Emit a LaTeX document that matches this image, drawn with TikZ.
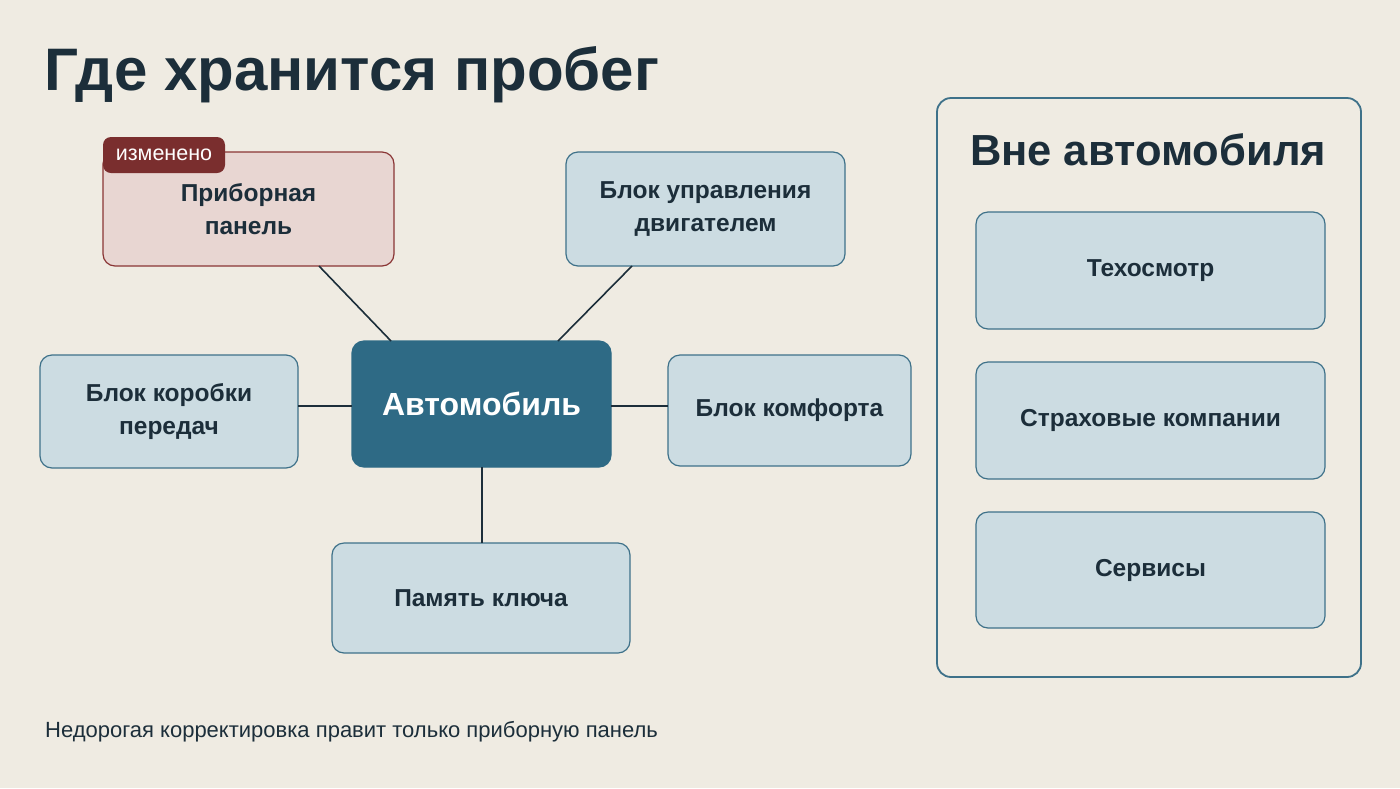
\documentclass[tikz,border=0pt]{standalone}
\usepackage{fontspec}
\setmainfont{Liberation Sans}
\definecolor{bg}{HTML}{EFEBE2}
\definecolor{boxfill}{HTML}{CCDCE2}
\definecolor{boxline}{HTML}{3E7189}
\definecolor{ink}{HTML}{1C2E3A}
\definecolor{hub}{HTML}{2E6A85}
\definecolor{redfill}{HTML}{E8D6D2}
\definecolor{redline}{HTML}{8A3535}
\definecolor{tagfill}{HTML}{7A2E2E}
\tikzset{
  bluebox/.style={draw=boxline, line width=1.2pt, fill=boxfill, rounded corners=12pt, align=center, text=ink, font=\fontsize{24.5}{33}\selectfont\bfseries, inner sep=0pt},
  conn/.style={draw=ink, line width=1.6pt},
}
\begin{document}
\begin{tikzpicture}[x=1pt,y=-1pt]
\fill[bg] (0,0) rectangle (1400,788);
\useasboundingbox (0,0) rectangle (1400,788);
% title
\node[anchor=base west, text=ink, font=\fontsize{60}{60}\selectfont\bfseries, inner sep=0pt] (title) at (44,90) {Где хранится пробег};
% nodes
\node[bluebox, draw=redline, fill=redfill, minimum width=291pt, minimum height=114pt] (dash) at (248.5,209) {Приборная\\панель};
\node[fill=tagfill, rounded corners=8pt, minimum width=122pt, minimum height=36pt, inner sep=0pt, text=white, font=\fontsize{21.5}{21.5}\selectfont] (tag) at (164,155) {изменено};
\node[bluebox, minimum width=279pt, minimum height=114pt] (ecu) at (705.5,209) {Блок управления\\двигателем};
\node[bluebox, minimum width=258pt, minimum height=113pt] (gear) at (169,411.5) {Блок коробки\\передач};
\node[bluebox, minimum width=243pt, minimum height=111pt] (comf) at (789.5,410.5) {Блок комфорта};
\node[bluebox, minimum width=298pt, minimum height=110pt] (key) at (481,598) {Память ключа};
\node[bluebox, fill=hub, draw=hub, text=white, minimum width=259pt, minimum height=126pt, font=\fontsize{32}{32}\selectfont\bfseries] (car) at (481.5,404) {Автомобиль};
% connectors
\coordinate (c1) at (391,341);
\coordinate (c2) at (558,341);
\coordinate (d1) at (319,266);
\coordinate (e1) at (632,266);
\coordinate (cl) at (352,406);
\coordinate (gl) at (298,406);
\coordinate (cr) at (611,406);
\coordinate (fr) at (668,406);
\coordinate (cb) at (482,467);
\coordinate (kt) at (482,543);
\draw[conn] (c1) -- (d1);
\draw[conn] (c2) -- (e1);
\draw[conn] (cl) -- (gl);
\draw[conn] (cr) -- (fr);
\draw[conn] (cb) -- (kt);
% outside container
\node[draw=boxline, line width=1.8pt, rounded corners=14pt, minimum width=424pt, minimum height=579pt, inner sep=0pt] (outer) at (1149,387.5) {};
\node[text=ink, font=\fontsize{43.5}{43.5}\selectfont\bfseries, inner sep=0pt] (outtitle) at (1148,150) {Вне автомобиля};
\node[bluebox, minimum width=349pt, minimum height=117pt] (to) at (1150.5,270.5) {Техосмотр};
\node[bluebox, minimum width=349pt, minimum height=117pt] (ins) at (1150.5,420.5) {Страховые компании};
\node[bluebox, minimum width=349pt, minimum height=116pt] (serv) at (1150.5,570) {Сервисы};
% footer
\node[anchor=base west, text=ink, font=\fontsize{22}{22}\selectfont, inner sep=0pt] (foot) at (45,737) {Недорогая корректировка правит только приборную панель};
\end{tikzpicture}
\end{document}
